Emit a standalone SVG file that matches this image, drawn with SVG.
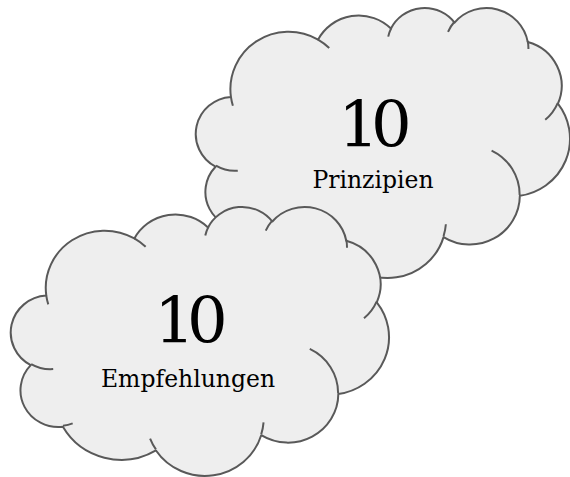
<svg xmlns="http://www.w3.org/2000/svg" width="570" height="477" viewBox="0 0 570 477">
  <style>
    .cloud { fill: #eeeeee; stroke: #595959; stroke-width: 2; vector-effect: non-scaling-stroke; stroke-linejoin: round; }
    .arcs { fill: none; stroke: #595959; stroke-width: 2; vector-effect: non-scaling-stroke; }
    .num { font-family: "DejaVu Serif", "Liberation Serif", serif; font-size: 64px; fill: #000000; text-anchor: middle; letter-spacing: -8px; }
    .lbl { font-family: "DejaVu Serif", "Liberation Serif", serif; font-size: 23.5px; fill: #000000; text-anchor: middle; }
  </style>
  <rect width="570" height="477" fill="#ffffff"/>
  <g id="connectors"/>
  <g id="node-prinzipien">
    <g transform="translate(197.3,7.14) scale(0.008623,0.006247)">
      <path class="cloud" d="M 3900 14370 A 6753 9190 0 0 1 14005 5202 A 5333 7267 0 0 1 22456 3429 A 4365 5945 0 0 1 29833 2475 A 4857 6595 0 0 1 38318 5570 A 5333 7273 0 0 1 41818 15453 A 6775 9220 0 0 1 37406 30200 A 5785 7867 0 0 1 28557 36810 A 6752 9215 0 0 1 16483 39263 A 7720 10543 0 0 1 5806 35468 A 4360 5918 0 0 1 2115 25546 A 4345 5945 0 0 1 3900 14370 Z"/>
      <path class="arcs" d="M 4693 26177 A 4345 5945 0 0 1 2160 25380 M 6928 34899 A 4360 5918 0 0 1 5820 35280 M 16478 39090 A 6752 9215 0 0 1 15809 37348 M 28827 34751 A 6752 9215 0 0 1 28560 36660 M 34129 22954 A 5785 7867 0 0 1 37380 30090 M 41798 15354 A 5333 7273 0 0 1 40350 18030 M 38324 5426 A 4857 6595 0 0 1 38400 6690 M 29078 3952 A 4857 6595 0 0 1 29820 2341 M 22141 4720 A 4365 5945 0 0 1 22500 3331 M 14000 5192 A 6753 9190 0 0 1 15299 6539 M 4127 15789 A 6753 9190 0 0 1 3900 14371"/>
    </g>
    <text class="num" x="371" y="147">10</text>
    <text class="lbl" x="373" y="188">Prinzipien</text>
  </g>
  <g id="node-empfehlungen">
    <g transform="translate(12.3,206.1) scale(0.008716,0.006224)">
      <path class="cloud" d="M 3900 14370 A 6753 9190 0 0 1 14005 5202 A 5333 7267 0 0 1 22456 3429 A 4365 5945 0 0 1 29833 2475 A 4857 6595 0 0 1 38318 5570 A 5333 7273 0 0 1 41818 15453 A 6775 9220 0 0 1 37406 30200 A 5785 7867 0 0 1 28557 36810 A 6752 9215 0 0 1 16483 39263 A 7720 10543 0 0 1 5806 35468 A 4360 5918 0 0 1 2115 25546 A 4345 5945 0 0 1 3900 14370 Z"/>
      <path class="arcs" d="M 4693 26177 A 4345 5945 0 0 1 2160 25380 M 6928 34899 A 4360 5918 0 0 1 5820 35280 M 16478 39090 A 6752 9215 0 0 1 15809 37348 M 28827 34751 A 6752 9215 0 0 1 28560 36660 M 34129 22954 A 5785 7867 0 0 1 37380 30090 M 41798 15354 A 5333 7273 0 0 1 40350 18030 M 38324 5426 A 4857 6595 0 0 1 38400 6690 M 29078 3952 A 4857 6595 0 0 1 29820 2341 M 22141 4720 A 4365 5945 0 0 1 22500 3331 M 14000 5192 A 6753 9190 0 0 1 15299 6539 M 4127 15789 A 6753 9190 0 0 1 3900 14371"/>
    </g>
    <text class="num" x="187" y="343">10</text>
    <text class="lbl" x="188" y="387">Empfehlungen</text>
  </g>
</svg>
